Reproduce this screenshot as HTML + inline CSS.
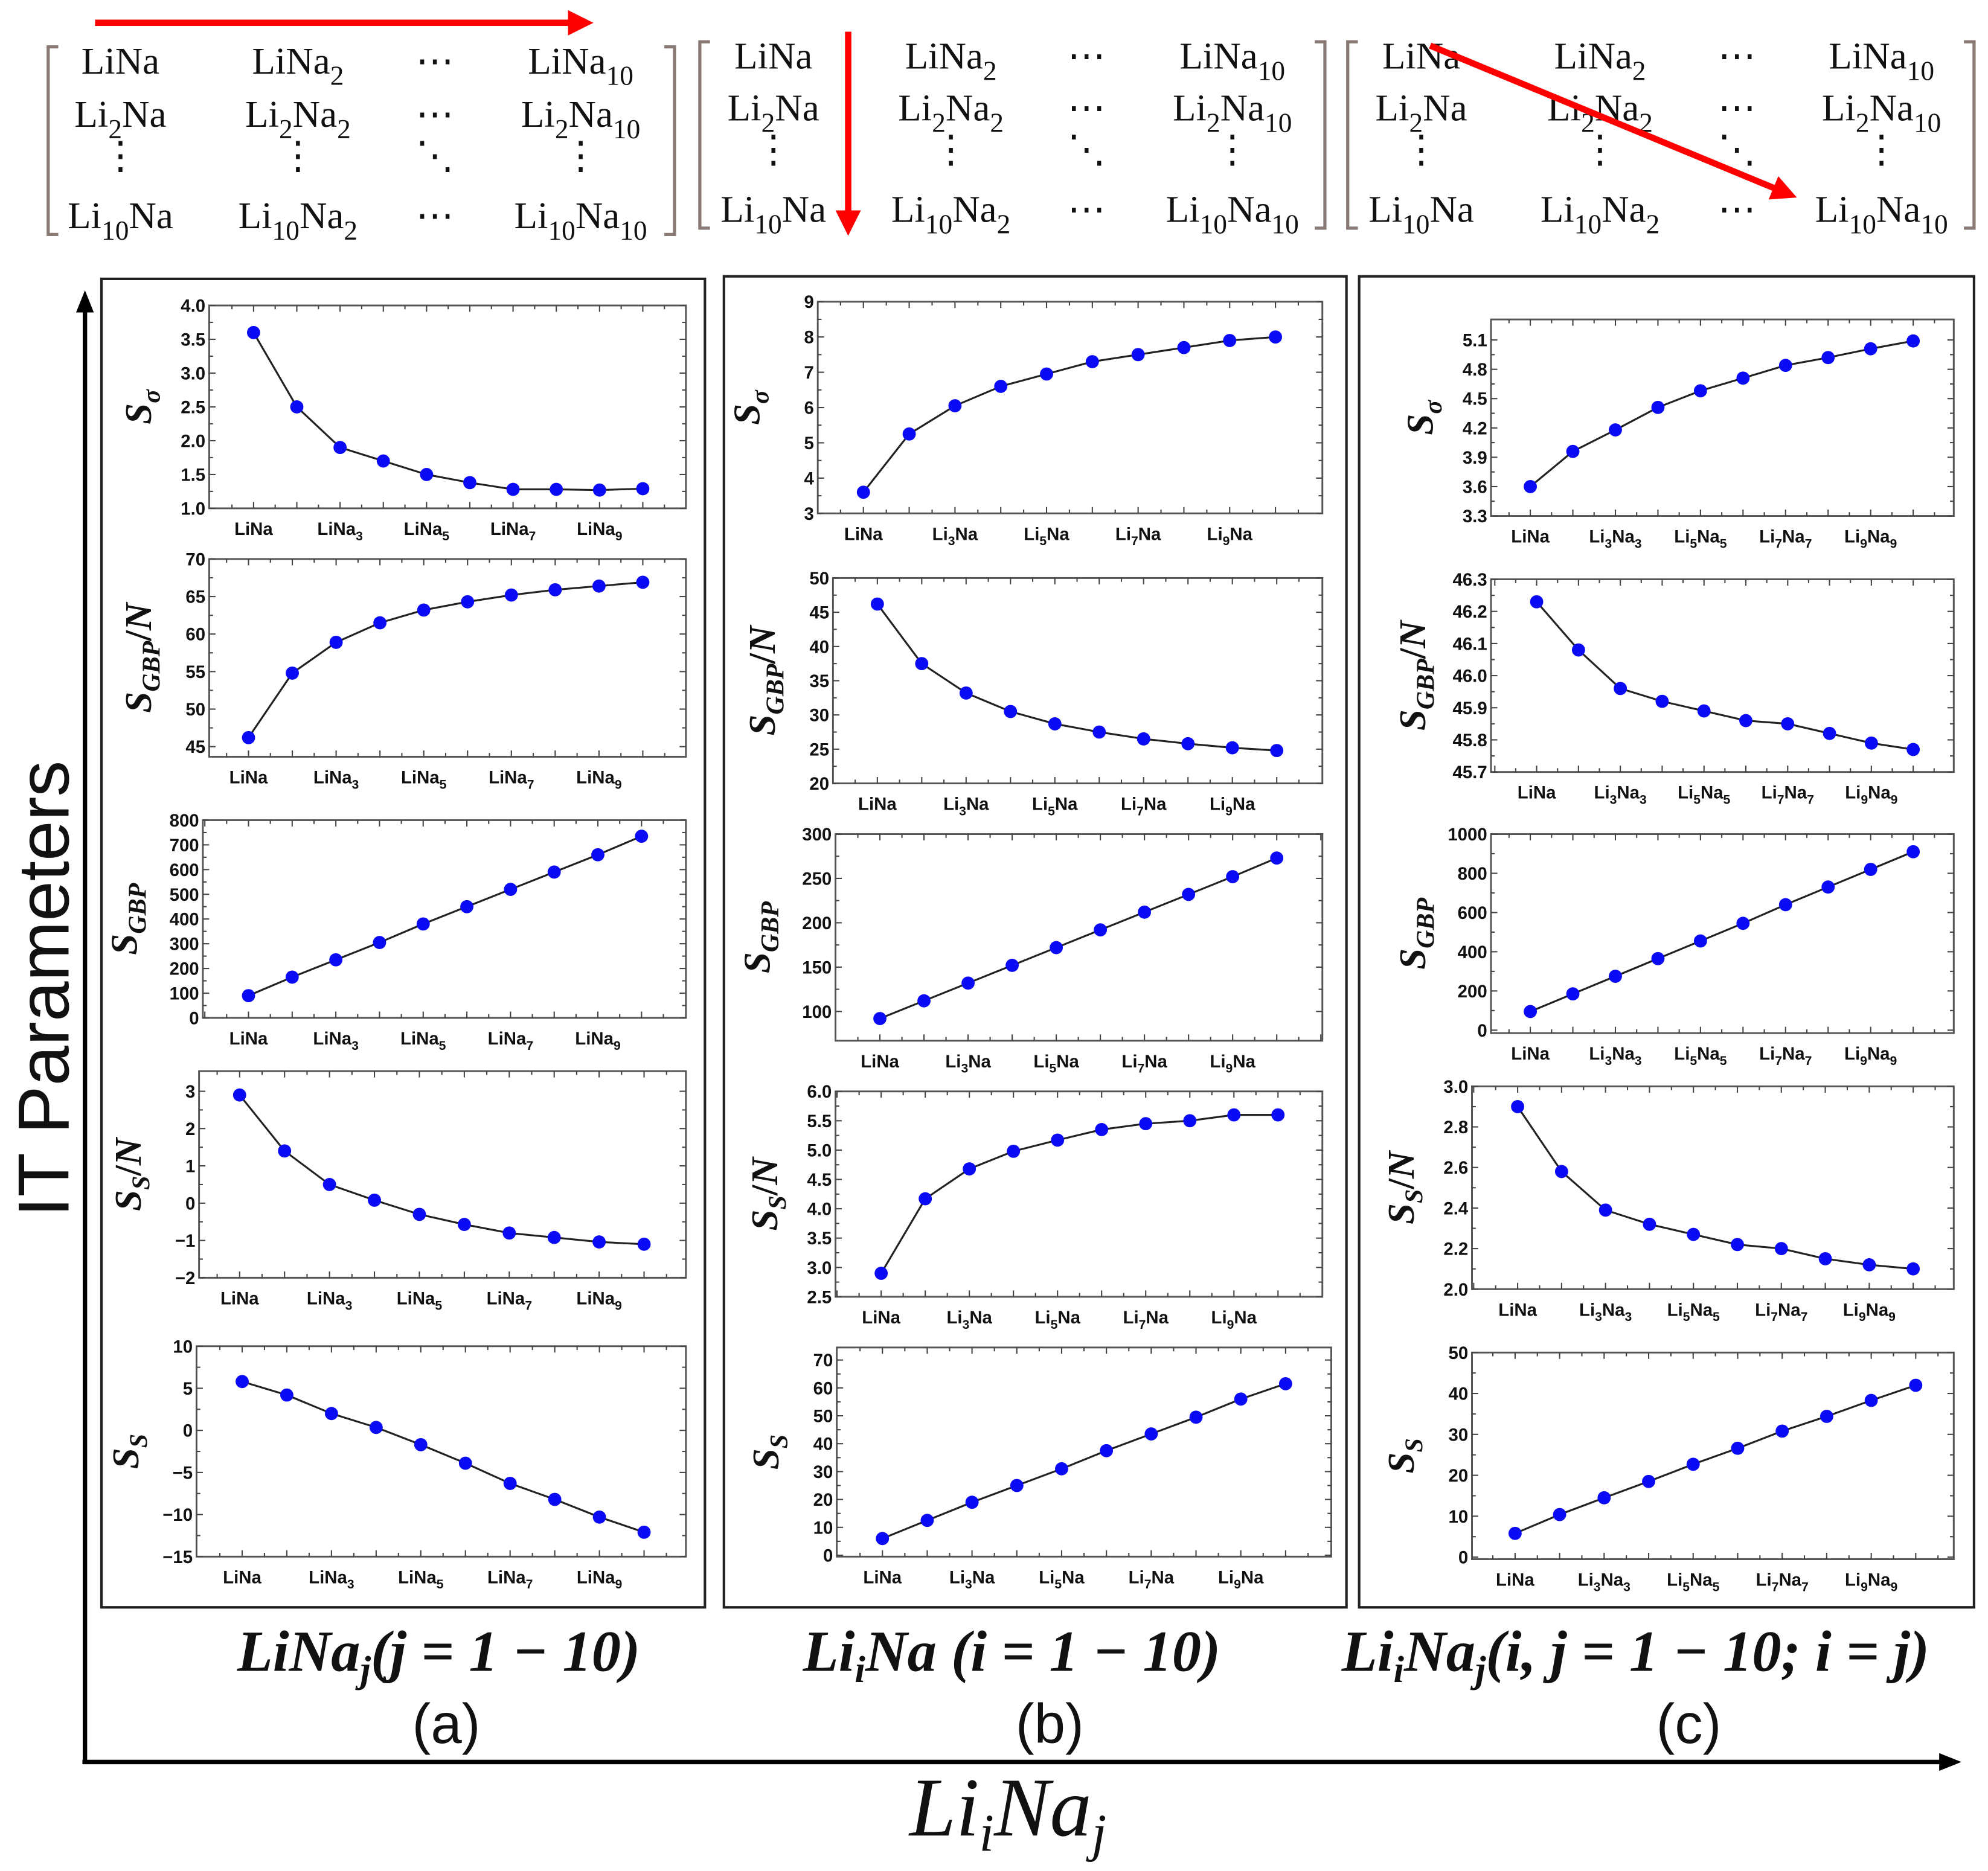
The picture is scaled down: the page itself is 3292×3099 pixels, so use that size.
<!DOCTYPE html>
<html><head><meta charset="utf-8"><style>
html,body{margin:0;padding:0;background:#fff;}
svg{display:block;}
.tk{font-family:"Liberation Sans",sans-serif;font-weight:bold;font-size:14px;fill:#111;}
.mx{font-family:"Liberation Serif",serif;font-size:30px;fill:#111;}
.yl{font-family:"Liberation Serif",serif;font-style:italic;font-weight:bold;font-size:30px;fill:#111;}
</style></head><body>
<svg id="fig" width="3292" height="3099" viewBox="0 0 1568 1476" preserveAspectRatio="none" xmlns="http://www.w3.org/2000/svg">
<defs>
<marker id="ahr" markerWidth="4" markerHeight="4" refX="2" refY="2" orient="auto" markerUnits="strokeWidth"><path d="M0,0 L4,2 L0,4 z" fill="#f00"/></marker>
<marker id="ahk" markerWidth="5" markerHeight="4" refX="3" refY="2" orient="auto" markerUnits="strokeWidth"><path d="M0,0 L5,2 L0,4 z" fill="#000"/></marker>
</defs>
</svg>
<script>
// ---------- data ----------
const idx = [0,1,2,3,4,5,6,7,8,9];
const catsA = ["LiNa","LiNa2","LiNa3","LiNa4","LiNa5","LiNa6","LiNa7","LiNa8","LiNa9","LiNa10"];
const catsB = ["LiNa","Li2Na","Li3Na","Li4Na","Li5Na","Li6Na","Li7Na","Li8Na","Li9Na","Li10Na"];
const catsC = ["LiNa","Li2Na2","Li3Na3","Li4Na4","Li5Na5","Li6Na6","Li7Na7","Li8Na8","Li9Na9","Li10Na10"];
const a1 = [3.6,2.5,1.9,1.7,1.5,1.38,1.28,1.28,1.27,1.29];
const a2 = [46.2,54.8,58.9,61.5,63.2,64.3,65.2,65.9,66.4,66.9];
const a3 = [90,165,235,305,380,450,520,590,660,735];
const a4 = [2.9,1.4,0.5,0.08,-0.3,-0.57,-0.8,-0.92,-1.04,-1.1];
const a5 = [5.8,4.2,2.0,0.35,-1.7,-3.9,-6.3,-8.2,-10.3,-12.1];
const b1 = [3.6,5.25,6.05,6.6,6.95,7.3,7.5,7.7,7.9,8.0];
const b2 = [46.2,37.5,33.2,30.5,28.7,27.5,26.5,25.8,25.2,24.8];
const b3 = [92,112,132,152,172,192,212,232,252,273];
const b4 = [2.9,4.17,4.68,4.98,5.17,5.35,5.45,5.5,5.6,5.6];
const b5 = [6,12.5,19,25,31,37.5,43.5,49.5,56,61.5];
const c1 = [3.6,3.96,4.18,4.41,4.58,4.71,4.84,4.92,5.01,5.09];
const c2 = [46.23,46.08,45.96,45.92,45.89,45.86,45.85,45.82,45.79,45.77];
const c3 = [95,185,275,365,455,545,640,730,820,910];
const c4 = [2.9,2.58,2.39,2.32,2.27,2.22,2.2,2.15,2.12,2.1];
const c5 = [5.8,10.4,14.5,18.5,22.7,26.6,30.8,34.4,38.3,42];
const ticksA1 = [1.0,1.5,2.0,2.5,3.0,3.5,4.0];
const ticksA2 = [45,50,55,60,65,70];
const ticksA3 = [0,100,200,300,400,500,600,700,800];
const ticksA4 = [-2,-1,0,1,2,3];
const ticksA5 = [-15,-10,-5,0,5,10];
const ticksB1 = [3,4,5,6,7,8,9];
const ticksB2 = [20,25,30,35,40,45,50];
const ticksB3 = [100,150,200,250,300];
const ticksB4 = [2.5,3.0,3.5,4.0,4.5,5.0,5.5,6.0];
const ticksB5 = [0,10,20,30,40,50,60,70];
const ticksC1 = [3.3,3.6,3.9,4.2,4.5,4.8,5.1];
const ticksC2 = [45.7,45.8,45.9,46.0,46.1,46.2,46.3];
const ticksC3 = [0,200,400,600,800,1000];
const ticksC4 = [2.0,2.2,2.4,2.6,2.8,3.0];
const ticksC5 = [0,10,20,30,40,50];

const NS = "http://www.w3.org/2000/svg";
const svg = document.getElementById('fig');
function mk(tag, attrs, parent){
  const e = document.createElementNS(NS, tag);
  for (const k in attrs) e.setAttribute(k, attrs[k]);
  (parent||svg).appendChild(e);
  return e;
}
function fmt(v, d){ return (v<0?"\u2212":"") + Math.abs(v).toFixed(d); }

function chemLabel(g, x, y, s, cls, fs){
  const t = mk('text',{x:x,y:y,'text-anchor':'middle','class':cls},g);
  const parts = s.match(/[^\d]+|\d+/g) || [s];
  let sub = false;
  parts.forEach(p=>{
    const ts = mk('tspan',{},t);
    if (/^\d+$/.test(p)) { ts.setAttribute('font-size', fs*0.72); ts.setAttribute('dy', fs*0.3); sub=true; }
    else if (sub) { ts.setAttribute('dy', -fs*0.3); sub=false; }
    ts.textContent = p;
  });
  return t;
}

function plot(name, box, xr, yr, ticks, dec, vals, cats, ylab){
  const [X0,Y0,X1,Y1] = box;
  const g = mk('g',{});
  
  
  const xs = i => xr[0] + (xr[1]-xr[0])*i/9;
  const ys = v => Y1 - (v-yr[0])/(yr[1]-yr[0])*(Y1-Y0);
  const fr = mk('rect',{x:X0,y:Y0,width:X1-X0,height:Y1-Y0,fill:'none',stroke:'#555','stroke-width':1.4},g);
  
  
  const step = (xr[1]-xr[0])/9;
  for (let k=-4;k<=24;k++){
    const x = xr[0] + step*k/2;
    if (x<=X0+1 || x>=X1-1) continue;
    const L = k%2===0?5:3;
    mk('line',{x1:x,y1:Y1,x2:x,y2:Y1-L,stroke:'#444','stroke-width':1},g);
    mk('line',{x1:x,y1:Y0,x2:x,y2:Y0+L,stroke:'#444','stroke-width':1},g);
  }
  const tstep = ticks[1]-ticks[0];
  ticks.forEach((v,i)=>{
    const y = ys(v);
    mk('line',{x1:X0,y1:y,x2:X0+5,y2:y,stroke:'#444','stroke-width':1},g);
    mk('line',{x1:X1,y1:y,x2:X1-5,y2:y,stroke:'#444','stroke-width':1},g);
    const ym = ys(v+tstep/2);
    if (i<ticks.length-1 && ym>Y0) {
      mk('line',{x1:X0,y1:ym,x2:X0+3,y2:ym,stroke:'#444','stroke-width':1},g);
      mk('line',{x1:X1,y1:ym,x2:X1-3,y2:ym,stroke:'#444','stroke-width':1},g);
    }
    const t = mk('text',{x:X0-3,y:y+5,'text-anchor':'end','class':'tk'},g);
    
    
    t.textContent = fmt(v,dec);
  });
  [0,2,4,6,8].forEach(i=>{
    const t = chemLabel(g, xs(i), Y1+21, cats[i], 'tk', 14);
    
    
  });
  const pts = vals.map((v,i)=>xs(i)+','+ys(v)).join(' ');
  const ln = mk('polyline',{points:pts,fill:'none',stroke:'#222','stroke-width':1.5},g);
  
  
  vals.forEach((v,i)=>{
    const c = mk('circle',{cx:xs(i),cy:ys(v),r:5.2,fill:'#0a0af5'},g);
    
    
  });
  const lx = X0 - (dec>0 && Math.abs(ticks[ticks.length-1])>=10 ? 52 : 46) - (ticks.some(t=>Math.abs(t)>=100)?6:0);
  const ly = (Y0+Y1)/2;
  const t = mk('text',{x:lx,y:ly,'text-anchor':'middle','class':'yl',transform:'rotate(-90 '+lx+' '+ly+')'},g);
  
  
  const s = mk('tspan',{},t); s.textContent='S';
  const sub = mk('tspan',{'font-size':20,dy:7},t); sub.textContent=ylab[0];
  if (ylab[1]) { const sl = mk('tspan',{dy:-7,'font-size':30,'font-style':'normal'},t); sl.textContent='/'; const n=mk('tspan',{},t); n.textContent='N'; }
}

// ---------- panel frames ----------
[[80,220,556,1268,'panel-a-frame'],[571,218,1062,1268,'panel-b-frame'],[1072,218,1557,1268,'panel-c-frame']].forEach(b=>{
  const r = mk('rect',{x:b[0],y:b[1],width:b[2]-b[0],height:b[3]-b[1],fill:'none',stroke:'#222','stroke-width':2});
  
  
});

// ---------- subplots ----------
plot('a-s-sigma',[165,241,541,401],[200,507],[1,4],ticksA1,1,a1,catsA,['\u03c3']);
plot('a-sgbp-n',[165,441,541,597],[196,507],[43.65,70],ticksA2,0,a2,catsA,['GBP',1]);
plot('a-sgbp',[160,647,541,803],[196,506],[0,800],ticksA3,0,a3,catsA,['GBP']);
plot('a-ss-n',[157,845,541,1008],[189,508],[-2,3.54],ticksA4,0,a4,catsA,['S',1]);
plot('a-ss',[155,1062,541,1228],[191,508],[-15,10],ticksA5,0,a5,catsA,['S']);
plot('b-s-sigma',[645,238,1043,405],[681,1006],[3,9],ticksB1,0,b1,catsB,['\u03c3']);
plot('b-sgbp-n',[657,456,1043,618],[692,1007],[20,50],ticksB2,0,b2,catsB,['GBP',1]);
plot('b-sgbp',[659,658,1043,821],[694,1007],[67,300],ticksB3,0,b3,catsB,['GBP']);
plot('b-ss-n',[659,861,1043,1023],[695,1008],[2.5,6],ticksB4,1,b4,catsB,['S',1]);
plot('b-ss',[660,1063,1050,1228],[696,1014],[-0.5,74.5],ticksB5,0,b5,catsB,['S']);
plot('c-s-sigma',[1176,252,1541,407],[1207,1509],[3.3,5.31],ticksC1,1,c1,catsC,['\u03c3']);
plot('c-sgbp-n',[1176,457,1541,609],[1212,1509],[45.7,46.3],ticksC2,1,c2,catsC,['GBP',1]);
plot('c-sgbp',[1176,658,1541,815],[1207,1509],[-15,1000],ticksC3,0,c3,catsC,['GBP']);
plot('c-ss-n',[1161,857,1541,1017],[1197,1509],[2.0,3.0],ticksC4,1,c4,catsC,['S',1]);
plot('c-ss',[1161,1067,1541,1230],[1195,1511],[-0.5,50],ticksC5,0,c5,catsC,['S']);

// ---------- matrices ----------
function matrix(name, x0, x1, yTop, yBot, cols, rows){
  const g = mk('g',{});
  
  
  mk('path',{d:`M${x0+8},${yTop} H${x0} V${yBot} H${x0+8}`,fill:'none',stroke:'#8a7a76','stroke-width':2.5},g);
  mk('path',{d:`M${x1-8},${yTop} H${x1} V${yBot} H${x1-8}`,fill:'none',stroke:'#8a7a76','stroke-width':2.5},g);
  const cells = [["LiNa","LiNa2","\u22ef","LiNa10"],["Li2Na","Li2Na2","\u22ef","Li2Na10"],["\u22ee","\u22ee","\u22f1","\u22ee"],["Li10Na","Li10Na2","\u22ef","Li10Na10"]];
  cells.forEach((row,r)=>row.forEach((c,ci)=>{
    chemLabel(g, cols[ci], rows[r], c, 'mx', 30);
  }));
}
matrix('matrix-a',38,532,37,185,[95,235,343,458],[58,100,133,180]);
matrix('matrix-b',552,1045,33,180,[610,750,857,972],[54,95,128,175]);
matrix('matrix-c',1063,1557,33,180,[1121,1262,1370,1484],[54,95,128,175]);

// ---------- red arrows ----------
[[75,18,458,18,'arrow-row'],[669,25,669,176,'arrow-column'],[1128,36,1408,152,'arrow-diagonal']].forEach(a=>{
  const l = mk('line',{x1:a[0],y1:a[1],x2:a[2],y2:a[3],stroke:'#f00','stroke-width':5,'marker-end':'url(#ahr)'});
  
  
});

// ---------- big axes ----------
const va = mk('line',{x1:67,y1:1390,x2:67,y2:236,stroke:'#000','stroke-width':3.5,'marker-end':'url(#ahk)'});


const ha = mk('line',{x1:65,y1:1390,x2:1540,y2:1390,stroke:'#000','stroke-width':3.5,'marker-end':'url(#ahk)'});



const yt = mk('text',{x:54,y:780,'text-anchor':'middle','font-family':'Liberation Sans, sans-serif','font-size':57,fill:'#111',transform:'rotate(-90 54 780)'});


yt.textContent = 'IT Parameters';

const xt = mk('text',{x:795,y:1448,'text-anchor':'middle','font-family':'Liberation Serif, serif','font-style':'italic','font-size':66,fill:'#111'});


xt.innerHTML = 'Li<tspan font-size="42" dy="12">i</tspan><tspan dy="-12">Na</tspan><tspan font-size="42" dy="12">j</tspan>';

function cap(name, x, y, html){
  const t = mk('text',{x:x,y:y,'text-anchor':'middle','font-family':'Liberation Serif, serif','font-style':'italic','font-weight':'bold','font-size':46,fill:'#111'});
  
  
  t.innerHTML = html;
}
cap('panel-a-caption',346,1318,'LiNa<tspan font-size="30" dy="9">j</tspan><tspan dy="-9">(j = 1 \u2212 10)</tspan>');
cap('panel-b-caption',798,1318,'Li<tspan font-size="30" dy="9">i</tspan><tspan dy="-9">Na (i = 1 \u2212 10)</tspan>');
cap('panel-c-caption',1290,1318,'Li<tspan font-size="30" dy="9">i</tspan><tspan dy="-9">Na</tspan><tspan font-size="30" dy="9">j</tspan><tspan dy="-9">(i, j = 1 \u2212 10; i = j)</tspan>');
[['panel-a-label',352,'(a)'],['panel-b-label',828,'(b)'],['panel-c-label',1332,'(c)']].forEach(p=>{
  const t = mk('text',{x:p[1],y:1375,'text-anchor':'middle','font-family':'Liberation Sans, sans-serif','font-size':44,fill:'#111'});
  
  
  t.textContent = p[2];
});
</script>
</body></html>
